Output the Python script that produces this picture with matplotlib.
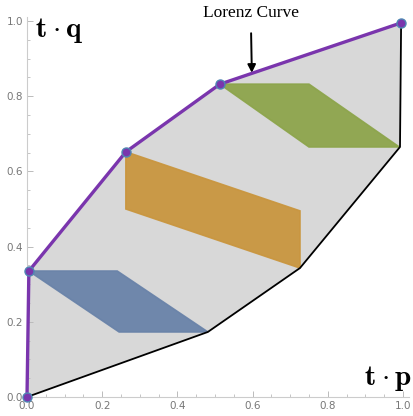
import matplotlib.pyplot as plt
from matplotlib.patches import Polygon
from matplotlib.ticker import MultipleLocator

# Lorenz curve (upper boundary)
lorenz_p = [0.0, 0.005, 0.263, 0.513, 0.995]
lorenz_q = [0.0, 0.335, 0.652, 0.832, 0.995]

# lower boundary
lower_p = [0.0, 0.481, 0.726, 0.992, 0.995]
lower_q = [0.0, 0.173, 0.343, 0.665, 0.995]

# sample regions (corners)
blue_p = [0.005, 0.24, 0.481, 0.245]
blue_q = [0.335, 0.335, 0.173, 0.173]
orange_p = [0.263, 0.263, 0.726, 0.726]
orange_q = [0.652, 0.50, 0.343, 0.495]
green_p = [0.513, 0.75, 0.99, 0.75]
green_q = [0.832, 0.832, 0.665, 0.665]

plt.rcParams['mathtext.fontset'] = 'cm'

fig = plt.figure(figsize=(4.14, 4.16), dpi=100)
ax = fig.add_axes([27 / 414, 1 - 397 / 416, 376 / 414, 376 / 416])

region = list(zip(lorenz_p, lorenz_q)) + list(zip(lower_p, lower_q))[::-1]
ax.add_patch(Polygon(region, closed=True, facecolor='#d8d8d8', edgecolor='none', zorder=1))

for ps, qs, col in [(blue_p, blue_q, '#6a83a9'), (orange_p, orange_q, '#c9963f'),
                    (green_p, green_q, '#8da54c')]:
    ax.add_patch(Polygon(list(zip(ps, qs)), closed=True, facecolor=col,
                         edgecolor=col, linewidth=1.2, alpha=0.95, zorder=2))

ax.plot(lower_p, lower_q, color='black', lw=1.3, zorder=3, clip_on=False)
ax.plot(lorenz_p, lorenz_q, color='#7a35ad', lw=2.4, zorder=4, clip_on=False,
        marker='o', markersize=6.5, markerfacecolor='#7a35ad',
        markeredgecolor='#4f86b3', markeredgewidth=1.0)

ax.annotate('Lorenz Curve', xy=(0.598, 0.862), xytext=(0.595, 1.022),
            ha='center', va='center', fontsize=12.5, family='Liberation Serif',
            arrowprops=dict(arrowstyle='-|>', color='black', lw=1.4,
                            mutation_scale=12, shrinkA=7, shrinkB=0),
            annotation_clip=False)

ax.text(0.021, 0.957, r'$\mathbf{t}\:\cdot\:\mathbf{q}$', fontsize=21,
        ha='left', va='baseline')
ax.text(1.025, 0.032, r'$\mathbf{t}\:\cdot\:\mathbf{p}$', fontsize=21,
        ha='right', va='baseline', clip_on=False)

ax.set_xlim(0, 1.0)
ax.set_ylim(0, 1.0)
for s in ['top', 'right']:
    ax.spines[s].set_visible(False)
for s in ['left', 'bottom']:
    ax.spines[s].set_color('#cccccc')
    ax.spines[s].set_linewidth(0.8)
ax.spines['bottom'].set_bounds(0, 1.015)
ax.spines['left'].set_bounds(0, 1.01)

ax.xaxis.set_major_locator(MultipleLocator(0.2))
ax.yaxis.set_major_locator(MultipleLocator(0.2))
ax.xaxis.set_minor_locator(MultipleLocator(0.05))
ax.yaxis.set_minor_locator(MultipleLocator(0.05))
ax.xaxis.set_major_formatter(lambda v, p: f'{v:.1f}')
ax.yaxis.set_major_formatter(lambda v, p: f'{v:.1f}')
ax.tick_params(which='both', direction='in', color='#bbbbbb', labelcolor='#777777',
               labelsize=7.5)
ax.tick_params(axis='x', pad=3)
ax.tick_params(axis='y', pad=3)
ax.tick_params(which='major', length=4, width=0.7)
ax.tick_params(which='minor', length=2.3, width=0.6)
ax.set_facecolor('none')

plt.savefig('out.png', dpi=100)
